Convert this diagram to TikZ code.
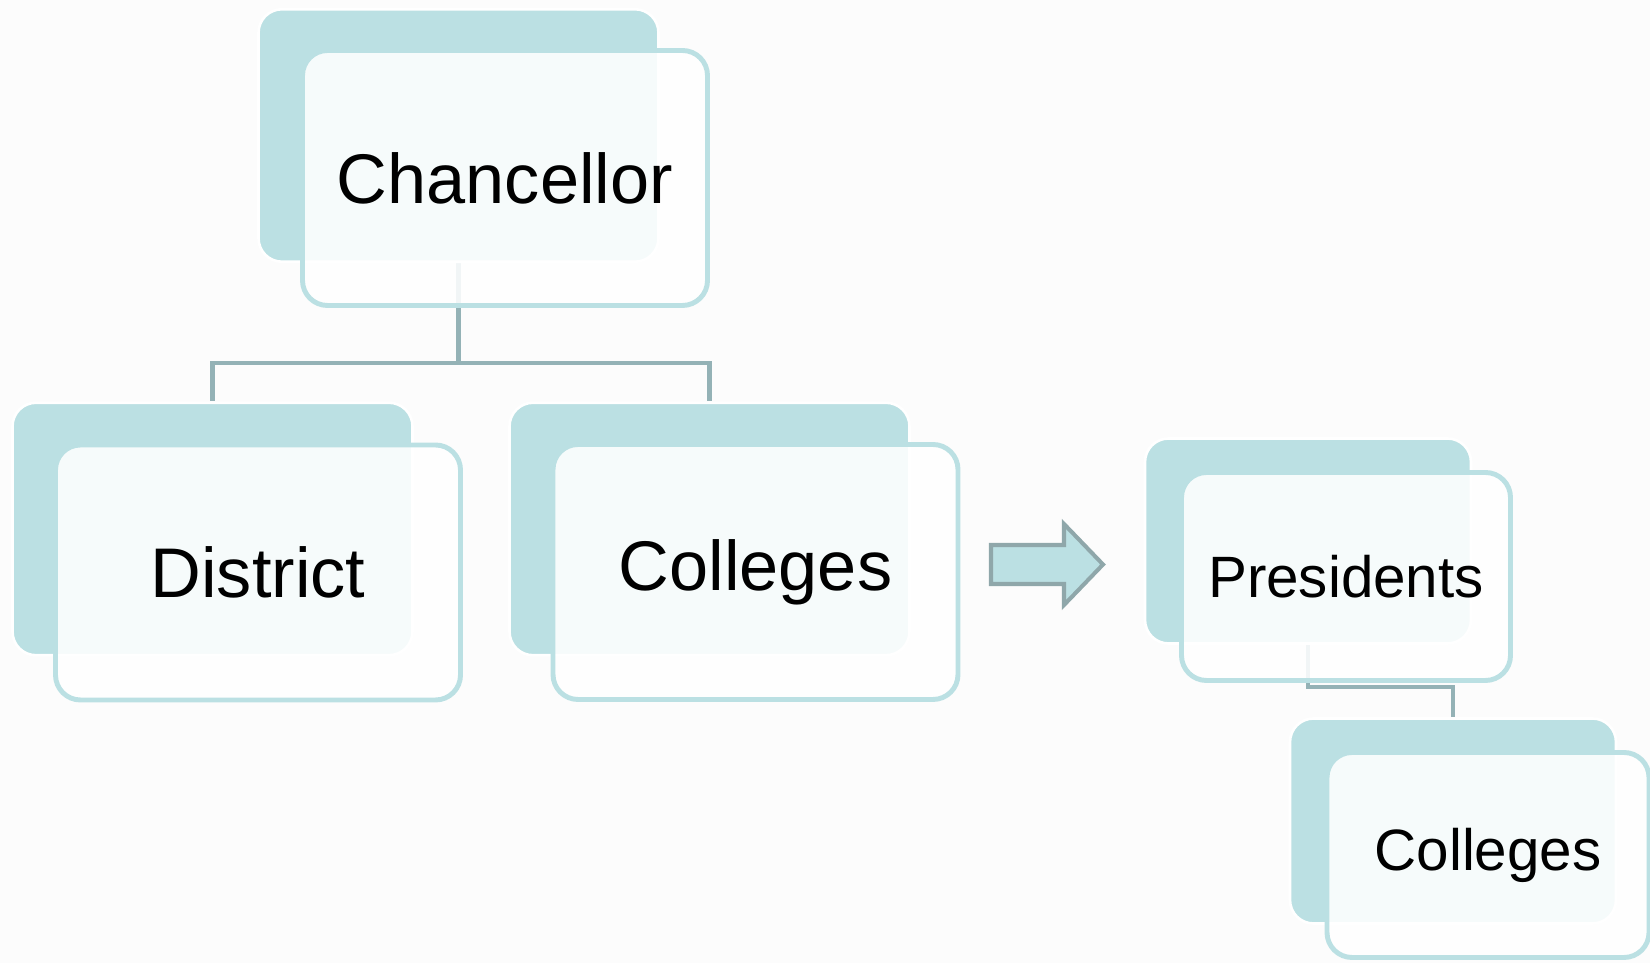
\documentclass[tikz,border=0pt]{standalone}
\usepackage{fontspec}
\setmainfont{Liberation Sans}
\usetikzlibrary{calc, backgrounds}

\definecolor{boxteal}{RGB}{187,224,227}
\definecolor{linkgray}{RGB}{148,178,182}
\definecolor{arrowgray}{RGB}{143,167,170}
\definecolor{pagebg}{RGB}{252,252,252}

\newcommand{\bigtxt}{\fontsize{40pt}{48pt}\selectfont}
\newcommand{\smalltxt}{\fontsize{33.2pt}{40pt}\selectfont}

\begin{document}
\begin{tikzpicture}[
    backcard/.style={rectangle, rounded corners=0.47cm, fill=boxteal, draw=white, line width=1.5pt, inner sep=0pt},
    frontcard/.style={rectangle, rounded corners=0.5cm, draw=boxteal, line width=2.8pt, fill=white, fill opacity=0.88, text opacity=1, inner sep=0pt},
    bigback/.style={backcard, minimum width=8cm, minimum height=5.05cm},
    bigfront/.style={frontcard, minimum width=8.1cm, minimum height=5.1cm, font=\bigtxt},
    smallback/.style={backcard, minimum width=6.52cm, minimum height=4.1cm},
    smallfront/.style={frontcard, minimum width=6.58cm, minimum height=4.16cm, font=\smalltxt},
    link/.style={draw=linkgray, line width=2.6pt},
    blockarrow/.style={fill=boxteal, draw=arrowgray, line width=2.3pt, line join=miter}
]
    \useasboundingbox (0,0) rectangle (33,19.26);

    % Chancellor
    \node[bigback] (chanB) at (9.17,16.55) {};
    \node[bigfront] (chan) at (10.10,15.70) {Chancellor};

    % District
    \node[bigback] (distB) at (4.25,8.68) {};
    \node[bigfront] (dist) at (5.16,7.81) {District};

    % Colleges (under the chancellor)
    \node[bigback] (collB) at (14.19,8.68) {};
    \node[bigfront] (coll) at (15.11,7.82) {Colleges};

    % Block arrow
    \draw[blockarrow] (19.82,8.36) -- (21.28,8.36) -- (21.28,8.78) -- (22.06,7.97)
        -- (21.28,7.16) -- (21.28,7.58) -- (19.82,7.58) -- cycle;

    % Presidents
    \node[smallback] (presB) at (26.16,8.44) {};
    \node[smallfront] (pres) at (26.92,7.73) {Presidents};

    % Colleges (under the presidents)
    \node[smallback] (coll2B) at (29.06,2.84) {};
    \node[smallfront, minimum width=6.44cm, minimum height=4.1cm] (coll2) at (29.76,2.16) {Colleges};

    % Connectors, behind the cards
    \begin{pgfonlayer}{background}
        \fill[pagebg] (0,0) rectangle (33,19.26);
        \coordinate (split) at ($(chanB.south)+(0,-2)$);
        \draw[link] (chanB.south) -- (split) -| (distB.north);
        \draw[link] (split) -| (collB.north);
        \coordinate (psplit) at ($(presB.south)+(0,-0.84)$);
        \draw[link] (presB.south) -- (psplit) -| (coll2B.north);
    \end{pgfonlayer}
\end{tikzpicture}
\end{document}
